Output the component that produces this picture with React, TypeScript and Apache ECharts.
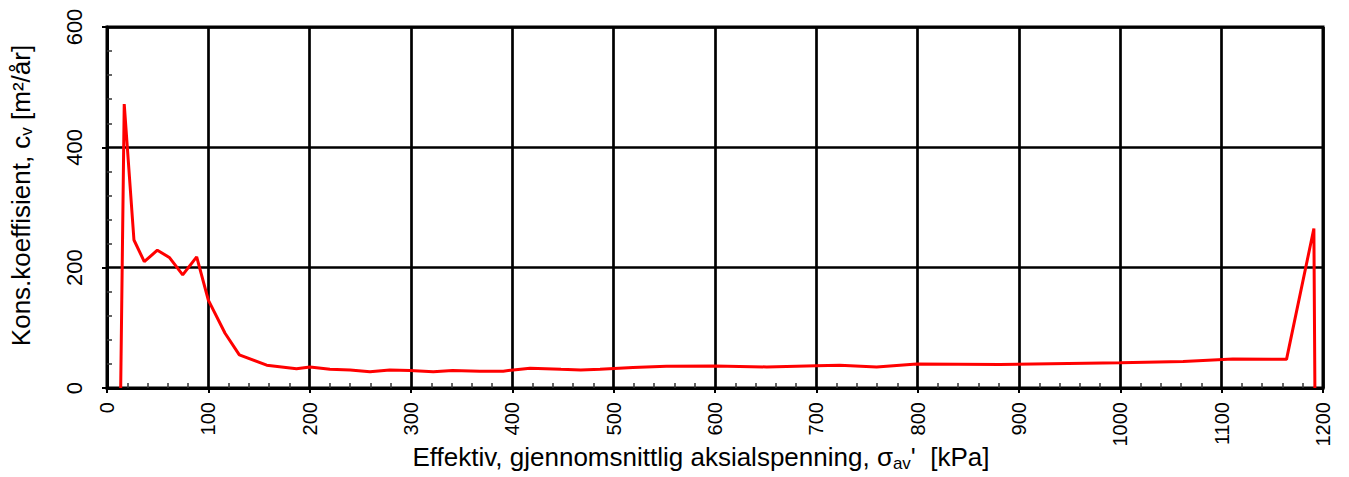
import React, { useEffect, useRef } from "react";
import * as echarts from "echarts";

const sigma = [13.5, 17, 26.6, 36.8, 49.7, 61.5, 74.7, 88.5, 100, 116.5, 130.6, 157.6, 187, 200.3, 220, 240, 259.5, 279, 299, 322, 341, 368, 391, 401, 417.5, 448, 467.5, 486.5, 519, 552, 600, 651, 700, 723, 759.5, 799, 881, 1000, 1062, 1111, 1164, 1191, 1192];
const cv = [0, 472, 246, 210, 229, 217, 188, 218, 146, 91, 55, 38, 32, 35, 31, 30, 27, 30, 29, 27, 29, 28, 28, 30, 33, 31, 30, 31, 34, 36, 36.5, 35, 37, 37.7, 35, 40, 39, 42, 44, 48, 47.6, 265, 0];

const xMin = 0, xMax = 1200, xStep = 100;
const yMin = 0, yMax = 600, yStep = 200;

const FONT = "'Liberation Sans', Arial, sans-serif";

export default function App() {
  const ref = useRef<HTMLDivElement>(null);
  useEffect(() => {
    if (!ref.current) return;
    const chart = echarts.init(ref.current, undefined, { renderer: "svg" });
    const data = sigma.map((s, i) => [s, cv[i]]);
    const xRich = {
      t: { fontSize: 26, fontFamily: FONT, color: "#000", lineHeight: 28 },
      sub: { fontSize: 17, fontFamily: FONT, color: "#000", lineHeight: 17, padding: [12, 0, 0, 0] },
    };
    const yRich = {
      t: { fontSize: 26, fontFamily: FONT, color: "#000", lineHeight: 29 },
      sub: { fontSize: 17, fontFamily: FONT, color: "#000", lineHeight: 17, padding: [12, 0, 0, 0] },
    };
    chart.setOption({
      animation: false,
      backgroundColor: "#fff",
      grid: { left: 107, right: 26, top: 27, bottom: 89, show: true, borderColor: "#000", borderWidth: 3, backgroundColor: "transparent", outerBoundsMode: "none", containLabel: false },
      xAxis: [
        {
          type: "value", min: xMin, max: xMax, interval: xStep, position: "bottom",
          name: "{t|Effektiv, gjennomsnittlig aksialspenning, σ}{sub|av}{t|'  [kPa]}",
          nameLocation: "middle", nameGap: 55, nameMoveOverlap: false,
          nameTextStyle: { rich: xRich, padding: [0, 28, 0, 0] },
          axisLine: { show: true, lineStyle: { color: "#000", width: 3 } },
          axisTick: { show: true, inside: false, length: 5, lineStyle: { color: "#000", width: 2 } },
          axisLabel: { rotate: 90, fontSize: 20, fontFamily: FONT, color: "#000", margin: 14, formatter: (v: number) => String(v) },
          splitLine: { show: true, lineStyle: { color: "#000", width: 2.7 } },
        },
        {
          type: "value", min: xMin, max: xMax, interval: xStep, position: "bottom",
          axisLine: { show: false },
          axisTick: { show: false, inside: true },
          minorTick: { show: true, splitNumber: 5, length: 5, lineStyle: { color: "#333", width: 1.5 } },
          axisLabel: { show: false },
          splitLine: { show: false },
        },
      ],
      yAxis: [
        {
          type: "value", min: yMin, max: yMax, interval: yStep, position: "left",
          name: "{t|Kons.koeffisient, c}{sub|v}{t| [m²/år]}",
          nameLocation: "middle", nameGap: 72, nameRotate: 90, nameMoveOverlap: false,
          nameTextStyle: { rich: yRich, padding: [0, 0, 0, 24] },
          axisLine: { show: true, lineStyle: { color: "#000", width: 3 } },
          axisTick: { show: true, inside: false, length: 5, lineStyle: { color: "#000", width: 2 } },
          axisLabel: { rotate: 90, fontSize: 22, fontFamily: FONT, color: "#000", margin: 22, formatter: (v: number) => String(v) },
          splitLine: { show: true, lineStyle: { color: "#000", width: 2.7 } },
        },
        {
          type: "value", min: yMin, max: yMax, interval: yStep, position: "left",
          axisLine: { show: false },
          axisTick: { show: false, inside: true },
          minorTick: { show: true, splitNumber: 5, length: 5, lineStyle: { color: "#333", width: 1.5 } },
          axisLabel: { show: false },
          splitLine: { show: false },
        },
      ],
      series: [
        {
          type: "line", data, xAxisIndex: 0, yAxisIndex: 0,
          showSymbol: false, symbol: "none",
          lineStyle: { color: "#ff0000", width: 3 },
          clip: false,
          z: 5,
        },
      ],
    });
    return () => chart.dispose();
  }, []);
  return <div ref={ref} style={{ position: "fixed", left: 0, top: 0, width: 1349, height: 477 }} />;
}
